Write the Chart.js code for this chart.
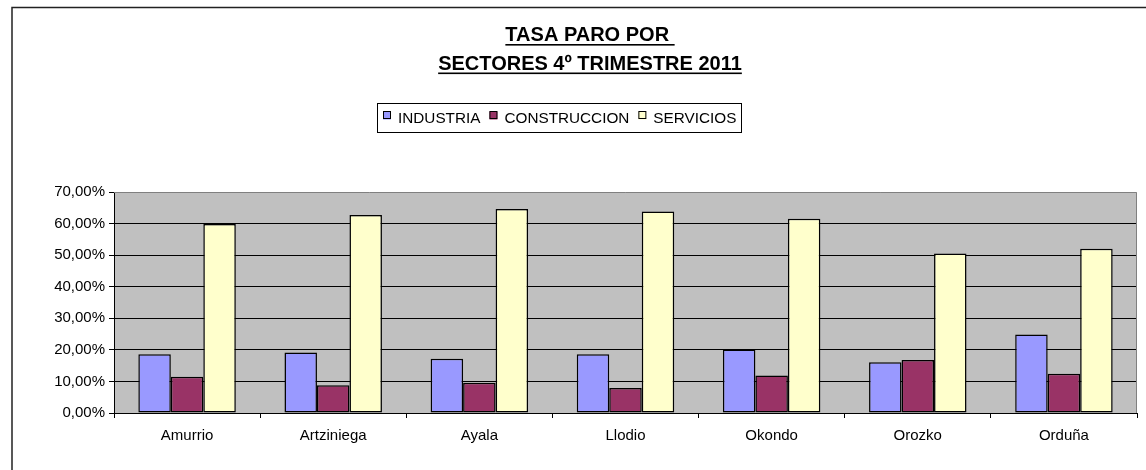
<!DOCTYPE html>
<html lang="es">
<head>
<meta charset="utf-8">
<title>Tasa paro por sectores 4º trimestre 2011</title>
<script src="https://cdn.jsdelivr.net/npm/chart.js@4.4.1/dist/chart.umd.min.js"></script>
<style>
  html, body { margin: 0; padding: 0; background: #fff; }
  #wrap { position: relative; width: 1146px; height: 470px; }
</style>
</head>
<body>
<div id="wrap">
  <canvas id="c" width="1146" height="470"></canvas>
</div>
<script>
// datos
var municipios = ["Amurrio", "Artziniega", "Ayala", "Llodio", "Okondo", "Orozko", "Orduña"];
var industria = [18.6, 19.2, 17.2, 18.6, 20.1, 16.1, 24.9];
var construccion = [11.5, 8.8, 9.6, 7.9, 11.9, 16.8, 12.4];
var servicios = [59.9, 62.7, 64.6, 63.8, 61.5, 50.5, 52.0];
var tituloLineas = ["TASA PARO POR ", "SECTORES 4º TRIMESTRE 2011"];

var FONT = '"Liberation Sans", Arial, sans-serif';

function pct(v) {
  return Number(v).toFixed(2).replace('.', ',') + '%';
}

// marco, fondo gris, titulo subrayado y leyenda con borde
var decorPlugin = {
  id: 'decor',
  beforeDraw: function(chart) {
    var ctx = chart.ctx, a = chart.chartArea;
    ctx.save();
    ctx.fillStyle = '#fff';
    ctx.fillRect(0, 0, chart.width, chart.height);
    // marco exterior
    ctx.strokeStyle = '#222';
    ctx.lineWidth = 1.5;
    ctx.beginPath();
    ctx.moveTo(12, chart.height);
    ctx.lineTo(12, 7.5);
    ctx.lineTo(chart.width, 7.5);
    ctx.stroke();
    // area de trazado
    ctx.fillStyle = '#C0C0C0';
    ctx.fillRect(a.left, a.top, a.right - a.left, a.bottom - a.top);
    ctx.restore();
  },
  afterDatasetsDraw: function(chart) {
    var ctx = chart.ctx, a = chart.chartArea;
    ctx.save();
    ctx.strokeStyle = '#808080';
    ctx.lineWidth = 1;
    ctx.beginPath();
    ctx.moveTo(a.left, a.top + 0.5);
    ctx.lineTo(a.right - 0.5, a.top + 0.5);
    ctx.lineTo(a.right - 0.5, a.bottom);
    ctx.stroke();
    ctx.restore();
  },
  afterDraw: function(chart) {
    var ctx = chart.ctx;
    ctx.save();
    // titulo
    var cx = 590;
    var bases = [41, 69.5];
    ctx.font = 'bold 20px ' + FONT;
    ctx.fillStyle = '#000';
    ctx.textAlign = 'left';
    ctx.textBaseline = 'alphabetic';
    tituloLineas.forEach(function(t, i) {
      var w = ctx.measureText(t).width;
      var x = cx - w / 2;
      ctx.fillText(t, x, bases[i]);
      ctx.fillRect(x, bases[i] + 3, w, 1.6);
    });
    // leyenda
    var lx = 377, ly = 103, lw = 364, lh = 29;
    ctx.strokeStyle = '#000';
    ctx.lineWidth = 1;
    ctx.strokeRect(lx + 0.5, ly + 0.5, lw, lh);
    ctx.font = '15.3px ' + FONT;
    ctx.textBaseline = 'middle';
    var x = lx + 6;
    chart.data.datasets.forEach(function(ds) {
      ctx.fillStyle = ds.backgroundColor;
      ctx.fillRect(x, ly + 8.5, 8, 8);
      ctx.strokeStyle = '#000';
      ctx.strokeRect(x + 0.5, ly + 8.5, 7, 7);
      x += 15;
      ctx.fillStyle = '#000';
      ctx.fillText(ds.label, x, ly + lh / 2 + 1);
      x += ctx.measureText(ds.label).width + 9;
    });
    ctx.restore();
  }
};

var ctx = document.getElementById('c').getContext('2d');
var chart = new Chart(ctx, {
  type: 'bar',
  data: {
    labels: municipios,
    datasets: [
      { label: 'INDUSTRIA', data: industria, backgroundColor: '#9999FF' },
      { label: 'CONSTRUCCION', data: construccion, backgroundColor: '#993366' },
      { label: 'SERVICIOS', data: servicios, backgroundColor: '#FFFFCC' }
    ]
  },
  options: {
    responsive: false,
    animation: false,
    devicePixelRatio: 1,
    layout: { padding: { top: 192, right: 9, left: 0, bottom: 0 } },
    datasets: {
      bar: {
        borderColor: '#000',
        borderWidth: 1.5,
        borderSkipped: false,
        categoryPercentage: 0.667,
        barPercentage: 1
      }
    },
    plugins: {
      legend: { display: false },
      title: { display: false },
      tooltip: { enabled: false }
    },
    scales: {
      x: {
        afterFit: function(s) { s.height = 57; },
        grid: {
          offset: true,
          drawOnChartArea: false,
          drawTicks: true,
          tickLength: 5,
          color: '#000'
        },
        border: { color: '#000', width: 1 },
        ticks: {
          color: '#000',
          padding: 9,
          font: { family: FONT, size: 15 }
        }
      },
      y: {
        min: 0,
        max: 70,
        afterFit: function(s) { s.width = 114; },
        grid: {
          color: function(c) { return c.tick && c.tick.value === 70 ? 'rgba(0,0,0,0)' : '#000'; },
          tickColor: '#000',
          tickLength: 5,
          lineWidth: 1
        },
        border: { color: '#000', width: 1 },
        ticks: {
          stepSize: 10,
          color: '#000',
          padding: 4,
          font: { family: FONT, size: 15 },
          callback: function(v) { return pct(v); }
        }
      }
    }
  },
  plugins: [decorPlugin]
});
</script>
</body>
</html>
